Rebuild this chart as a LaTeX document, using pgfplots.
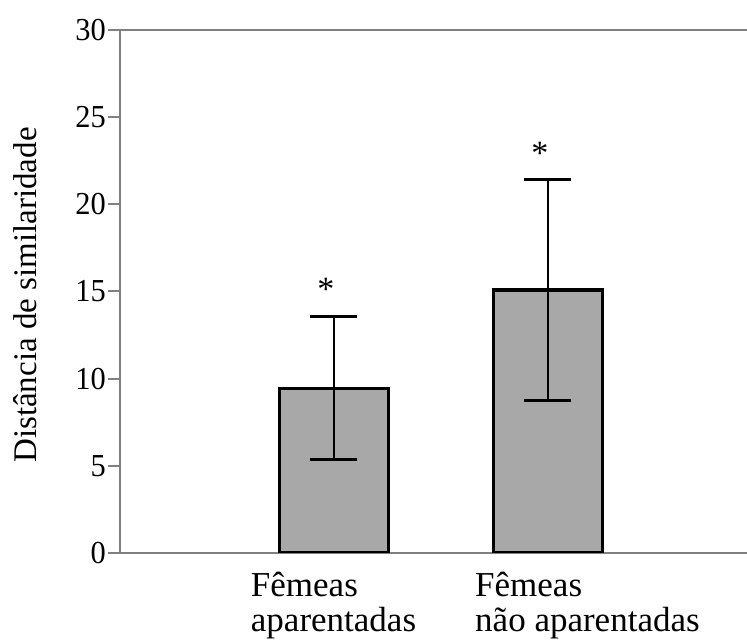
\documentclass[border=0pt]{standalone}
\usepackage{fontspec}
\setmainfont{Liberation Serif}
\usepackage{pgfplots}
\pgfplotsset{compat=1.18}
\definecolor{axgray}{RGB}{128,128,128}
\definecolor{barfill}{RGB}{168,168,168}
\begin{document}
\begin{tikzpicture}
\useasboundingbox (-120pt,-89pt) rectangle (627pt,553pt);
\begin{axis}[
  at={(0pt,0pt)}, anchor=south west,
  scale only axis, width=627pt, height=523pt,
  xmin=0, xmax=2.93, ymin=0, ymax=30,
  axis x line=box, axis y line=left,
  axis line style={axgray, line width=2.5pt, -},
  ytick={0,5,...,30},
  xtick={0.611,1.659},
  xticklabels={Fêmeas\\aparentadas, Fêmeas\\não aparentadas},
  xtick style={draw=none},
  ytick style={axgray, line width=2pt},
  tick align=outside,
  major tick length=12pt,
  /pgf/number format/assume math mode=true,
  yticklabel={\scalebox{0.95}[1]{\pgfmathprintnumber{\tick}}},
  yticklabel style={font=\fontsize{32}{32}\selectfont, inner sep=2pt},
  xticklabel style={font=\fontsize{35}{35}\selectfont, align=left, anchor=north west, inner sep=0pt, yshift=-7pt},
  ylabel={Distância de similaridade},
  ylabel style={font=\fontsize{33}{33}\selectfont, at={(axis description cs:-0.1324,0.4933)}, anchor=base, rotate=0},
  ybar, bar width=0.51,
  bar shift=0pt,
]
\addplot[fill=barfill, draw=black, line width=3.5pt,
  error bars/.cd, y dir=both, y explicit,
  error bar style={black, line width=2.8pt},
  error mark options={black, rotate=90, mark size=23.5pt, line width=2.8pt}]
  coordinates {(1,9.45) +- (0,4.1) (2,15.1) +- (0,6.33)};
\node[font=\fontsize{34}{34}\selectfont, anchor=north, inner sep=0pt, xshift=-8pt] at (axis cs:1,15.75) {*};
\node[font=\fontsize{34}{34}\selectfont, anchor=north, inner sep=0pt, xshift=-8pt] at (axis cs:2,23.6) {*};
\end{axis}
\end{tikzpicture}
\end{document}
